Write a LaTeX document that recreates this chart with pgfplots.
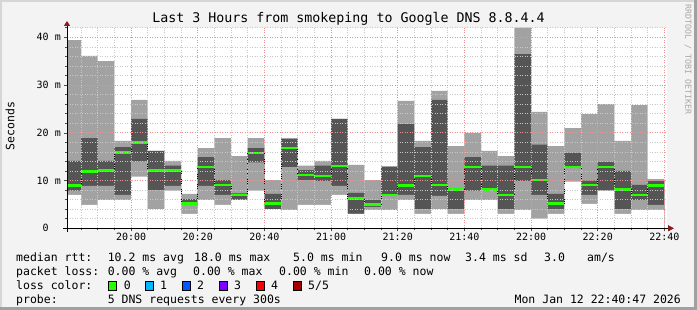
\documentclass[border=0pt]{standalone}
\usepackage{fontspec}
\setmainfont{DejaVu Sans Mono}
\setmonofont{DejaVu Sans Mono}
\usepackage{pgfplots}
\pgfplotsset{compat=1.18}
\usepackage{pgfplotstable}

\definecolor{canvas}{HTML}{F3F3F3}
\definecolor{smokeL}{HTML}{A2A2A2}
\definecolor{smokeD}{HTML}{555555}
\definecolor{loss0}{HTML}{26FF00}
\definecolor{loss1}{HTML}{00B8FF}
\definecolor{loss2}{HTML}{0059FF}
\definecolor{loss3}{HTML}{7E00FF}
\definecolor{loss4}{HTML}{FF0000}
\definecolor{loss5}{HTML}{A10000}
\definecolor{mgrid}{HTML}{F09090}
\definecolor{ngrid}{HTML}{C8C8C8}
\definecolor{arrowred}{HTML}{8B1A1A}
\definecolor{frameD}{HTML}{A0A0A0}
\definecolor{frameL}{HTML}{D6D6D6}
\definecolor{wm}{HTML}{A8A8A8}

% t = minutes after 19:40; p1..p5 = sorted ping rtt (ms); med = median
\pgfplotstableread{
t   p1   p2   med  p4   p5
0   7.0  7.9  9.0  14.1 39.4
5   4.9  8.9  11.9 18.9 36.1
10  5.9  8.9  12.1 14.1 35.0
15  5.9  7.0  15.9 17.0 18.3
20  10.8 14.0 18.0 22.9 26.9
25  4.0  8.0  12.1 16.2 16.2
30  7.9  8.9  12.1 13.1 14.1
35  3.0  5.0  5.2  6.1  7.2
40  5.9  8.9  12.8 14.9 16.8
45  4.9  7.0  9.1  10.1 18.9
50  5.9  6.0  7.0  7.3  15.1
55  7.9  13.8 15.8 16.8 18.9
60  4.0  4.0  5.2  7.2  10.1
65  3.8  12.8 16.8 18.7 18.9
70  4.9  10.1 11.1 12.2 13.1
75  4.9  9.9  11.0 13.1 14.1
80  7.0  8.9  13.0 22.9 22.9
85  3.0  3.0  6.2  7.4  13.3
90  3.8  4.5  5.0  5.9  10.1
95  3.8  6.9  7.0  12.8 13.0
100 5.9  7.0  9.0  21.8 26.7
105 3.0  4.0  11.0 17.0 18.3
110 4.0  6.8  9.1  26.9 28.8
115 3.0  4.0  8.1  8.4  17.2
120 5.9  7.9  12.8 14.9 20.0
125 5.9  7.9  8.1  13.1 16.2
130 3.0  4.0  7.0  13.1 15.1
135 3.8  9.9  12.8 36.5 42.0
140 2.0  7.0  10.1 17.5 24.4
145 3.0  4.0  5.2  7.2  17.2
150 9.8  12.6 12.8 15.8 21.0
155 5.1  7.0  9.1  10.0 23.9
160 7.9  7.9  12.8 13.9 26.0
165 3.0  4.0  8.1  12.0 18.3
170 3.8  5.9  7.0  9.1  25.8
175 3.8  4.9  9.0  9.9  10.3
180 3.8  4.9  9.0  9.9  10.3
}\smoke

\newcommand{\lf}{\fontsize{11.5}{12}\selectfont}

\begin{document}
\begin{tikzpicture}[x=1pt,y=1pt]
\useasboundingbox (0,0) rectangle (697,310);
\fill[canvas] (0,0) rectangle (697,310);
% 3D frame
\fill[frameL] (0,0) rectangle (2,310);
\fill[frameL] (0,308) rectangle (697,310);
\fill[frameD] (694,0) rectangle (697,310);
\fill[frameD] (0,0) rectangle (697,3);
% plot background
\fill[white] (67,81.7) rectangle (667,282.25);

\begin{axis}[
  at={(67pt,81.7pt)}, anchor=south west,
  scale only axis, width=600pt, height=200.55pt,
  xmin=0.78, xmax=180.78, ymin=0, ymax=42,
  axis x line*=bottom, axis y line*=left,
  axis line style={draw=none},
  axis on top,
  xtick={20,40,...,180},
  xticklabels={20:00,20:20,20:40,21:00,21:20,21:40,22:00,22:20,22:40},
  minor xtick={5,10,...,180},
  ytick={0,10,20,30,40},
  yticklabels={0\phantom{ m},10 m,20 m,30 m,40 m},
  minor ytick={2,4,...,42},
  grid=both,
  major grid style={mgrid, dash pattern=on 1pt off 1.5pt, line width=0.6pt},
  minor grid style={ngrid, dash pattern=on 1pt off 1.5pt, line width=0.6pt},
  tick align=outside,
  major tick length=3pt, minor tick length=2pt,
  tick style={black!70, line width=0.5pt},
  ticklabel style={font=\fontsize{10}{10}\selectfont},
  yticklabel style={anchor=east, inner sep=0pt, xshift=-3pt},
  xticklabel style={anchor=north, inner sep=0pt, yshift=-2pt},
  clip=true,
]
\addplot[ybar interval, fill=smokeL, draw=none] table[x=t,y=p5]{\smoke};
\addplot[ybar interval, fill=smokeD, draw=none] table[x=t,y=p4]{\smoke};
\addplot[ybar interval, fill=smokeL, draw=none] table[x=t,y=p2]{\smoke};
\addplot[ybar interval, fill=white, draw=none] table[x=t,y=p1]{\smoke};
\addplot[black, dash pattern=on 1pt off 1pt, line width=0.6pt, const plot] table[x=t,y=med]{\smoke};
\addplot[loss0, line width=2.4pt, jump mark left] table[x=t,y=med]{\smoke};
\end{axis}

% axis lines with arrows
\draw[black, line width=1pt] (63,81.7) -- (669,81.7);
\fill[arrowred] (668,78.5) -- (674,81.7) -- (668,84.9) -- cycle;
\draw[black, line width=1pt] (67,78) -- (67,285);
\fill[arrowred] (63.8,284) -- (67,289) -- (70.2,284) -- cycle;

% title
\node[font=\fontsize{13.3}{14}\selectfont, anchor=base] at (348.5,287) {Last 3 Hours from smokeping to Google DNS 8.8.4.4};
% y label
\node[font=\lf, rotate=90, anchor=center] at (10,184) {Seconds};
% watermark
\node[font=\fontsize{8.3}{9}\selectfont, text=wm, rotate=-90, anchor=west, inner sep=0pt] at (688,306) {RRDTOOL / TOBI OETIKER};

\begin{scope}[every node/.style={font=\lf, anchor=base west, inner sep=0pt}]
% row 1
\node at (16,48) {median rtt:};
\node at (107.6,48) {10.2 ms avg};
\node at (194,48) {18.0 ms max};
\node at (293,48) {5.0 ms min};
\node at (381,48) {9.0 ms now};
\node at (465,48) {3.4 ms sd};
\node at (544,48) {3.0};
\node at (587,48) {am/s};
% row 2
\node at (16,34) {packet loss:};
\node at (107.6,34) {0.00 \% avg};
\node at (193,34) {0.00 \% max};
\node at (279,34) {0.00 \% min};
\node at (364,34) {0.00 \% now};
% row 3
\node at (16,20) {loss color:};
\node at (123.6,20) {0};
\node at (160,20) {1};
\node at (197,20) {2};
\node at (234,20) {3};
\node at (271,20) {4};
\node at (308,20) {5/5};
% row 4
\node at (16,6.5) {probe:};
\node at (107.6,6.5) {5 DNS requests every 300s};
\node[anchor=base east] at (681,6.5) {Mon Jan 12 22:40:47 2026};
\end{scope}
\fill[loss0, draw=black, line width=0.5pt] (108,20) rectangle (116,28.5);
\fill[loss1, draw=black, line width=0.5pt] (145,20) rectangle (153,28.5);
\fill[loss2, draw=black, line width=0.5pt] (182,20) rectangle (190,28.5);
\fill[loss3, draw=black, line width=0.5pt] (219,20) rectangle (227,28.5);
\fill[loss4, draw=black, line width=0.5pt] (256,20) rectangle (264,28.5);
\fill[loss5, draw=black, line width=0.5pt] (293,20) rectangle (301,28.5);
\end{tikzpicture}
\end{document}
